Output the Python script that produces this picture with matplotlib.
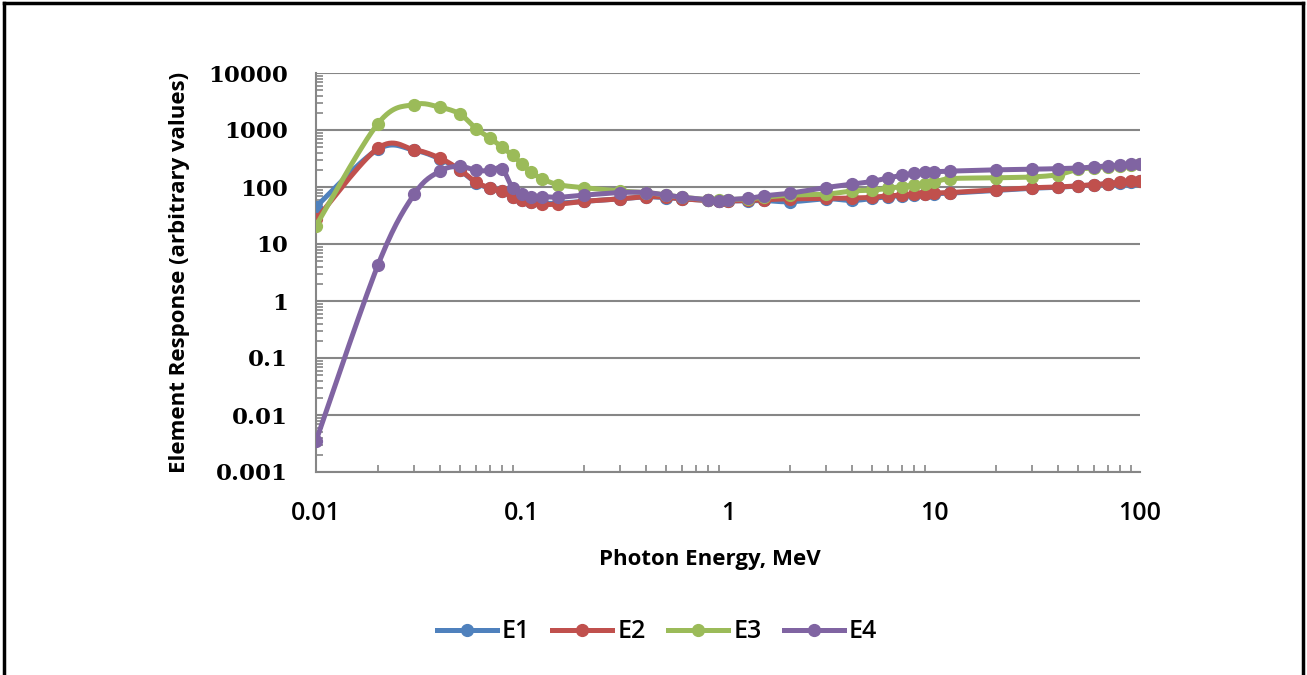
import numpy as np
import matplotlib.pyplot as plt
from matplotlib.lines import Line2D
from matplotlib.ticker import FixedLocator, FixedFormatter, NullFormatter

# photon energies (MeV) and element responses
energy = [0.01, 0.02, 0.03, 0.04, 0.05, 0.06, 0.07, 0.08, 0.09, 0.1, 0.11, 0.125,
          0.15, 0.2, 0.3, 0.4, 0.5, 0.6, 0.8, 0.9, 1, 1.25, 1.5, 2, 3, 4, 5, 6,
          7, 8, 9, 10, 12, 20, 30, 40, 50, 60, 70, 80, 90, 100]

e1 = [45, 460, 440, 310, 195, 118, 95, 84, 67, 58, 55, 52,
      52, 56, 62, 67, 65, 62, 58, 57, 57, 57, 58, 55, 62, 58, 63, 68,
      70, 72, 74, 76, 78, 87, 95, 99, 104, 109, 114, 119, 124, 128]
e2 = [27, 480, 450, 320, 200, 120, 97, 85, 68, 58, 55, 50,
      50, 56, 62, 68, 66, 62, 58, 56, 57, 58, 60, 62, 63, 64, 66, 70,
      72, 74, 76, 78, 80, 89, 97, 100, 105, 110, 115, 120, 125, 130]
e3 = [21, 1300, 2800, 2500, 1900, 1050, 720, 500, 360, 250, 185, 140,
      110, 97, 85, 80, 72, 66, 60, 58, 60, 62, 66, 72, 75, 85, 88, 95,
      102, 108, 115, 120, 140, 145, 150, 165, 205, 215, 228, 235, 245, 250]
e4 = [0.0035, 4.3, 75, 190, 230, 195, 195, 210, 95, 75, 66, 68,
      66, 72, 80, 80, 72, 66, 60, 57, 60, 63, 70, 78, 98, 112, 125, 145,
      160, 175, 183, 185, 190, 200, 205, 210, 215, 225, 235, 240, 250, 255]

names = ['E1', 'E2', 'E3', 'E4']
colors = ['#4F81BD', '#C0504D', '#9BBB59', '#8064A2']

y_ticks = [0.001, 0.01, 0.1, 1, 10, 100, 1000, 10000]
y_labels = ['0.001', '0.01', '0.1', '1', '10', '100', '1000', '10000']
x_ticks = [0.01, 0.1, 1, 10, 100]
x_labels = ['0.01', '0.1', '1', '10', '100']


def smooth(xs, ys, n=16):
    # Excel style smoothed line (Catmull-Rom in log-log space)
    px = np.log10(xs)
    py = np.log10(ys)
    out_x, out_y = [], []
    m = len(px)
    for i in range(m - 1):
        i0, i3 = max(i - 1, 0), min(i + 2, m - 1)
        t = np.linspace(0, 1, n, endpoint=False)
        for p, out in ((px, out_x), (py, out_y)):
            p0, p1, p2, p3 = p[i0], p[i], p[i + 1], p[i3]
            c1 = p1 + (p2 - p0) / 6
            c2 = p2 - (p3 - p1) / 6
            b = ((1 - t) ** 3 * p1 + 3 * (1 - t) ** 2 * t * c1
                 + 3 * (1 - t) * t ** 2 * c2 + t ** 3 * p2)
            out.extend(b)
    out_x.append(px[-1])
    out_y.append(py[-1])
    return 10 ** np.array(out_x), 10 ** np.array(out_y)


fig = plt.figure(figsize=(13.07, 6.75), dpi=100)
ax = fig.add_axes([316 / 1307, 1 - 472 / 675, 824 / 1307, 399 / 675])

handles = []
for ys, name, c in zip([e1, e2, e3, e4], names, colors):
    sx, sy = smooth(energy, ys)
    ax.plot(sx, sy, color=c, lw=3.6, solid_capstyle='round', zorder=3)
    ax.plot(energy, ys, 'o', color=c, ms=8.5, zorder=3)
    handles.append(Line2D([], [], color=c, lw=3.6, marker='o', ms=8.5))

ax.set_xscale('log')
ax.set_yscale('log')
ax.set_xlim(0.01, 100)
ax.set_ylim(0.001, 10000)

gray = '#868686'
ax.yaxis.set_major_locator(FixedLocator(y_ticks))
ax.yaxis.set_major_formatter(FixedFormatter(y_labels))
ax.xaxis.set_major_locator(FixedLocator(x_ticks))
ax.xaxis.set_major_formatter(FixedFormatter(x_labels))
ax.yaxis.set_minor_locator(FixedLocator(
    [m * 10.0 ** d for d in range(-3, 4) for m in range(2, 10)]))
ax.xaxis.set_minor_locator(FixedLocator(
    [m * 10.0 ** d for d in range(-2, 2) for m in range(2, 10)]))
ax.yaxis.set_minor_formatter(NullFormatter())
ax.xaxis.set_minor_formatter(NullFormatter())

ax.grid(True, which='major', axis='y', color=gray, lw=1.5)
for s in ['top', 'right']:
    ax.spines[s].set_visible(False)
for s in ['left', 'bottom']:
    ax.spines[s].set_color(gray)
    ax.spines[s].set_linewidth(1.5)
ax.tick_params(which='major', length=0)
ax.tick_params(axis='y', which='major', pad=20)
ax.tick_params(axis='x', which='major', pad=21)
ax.tick_params(which='minor', direction='in', length=5, width=1.2, color=gray)

for lab in ax.get_yticklabels():
    lab.set_fontfamily('DejaVu Serif')
    lab.set_fontweight('bold')
    lab.set_fontsize(16.5)
for lab in ax.get_xticklabels():
    lab.set_fontfamily('Open Sans')
    lab.set_fontweight('semibold')
    lab.set_fontsize(18)

fig.text(180 / 1307, 1 - 272 / 675, 'Element Response (arbitrary values)',
         rotation=90, ha='center', va='center', fontsize=16,
         fontfamily='Open Sans', fontweight='bold')
fig.text(710 / 1307, 1 - 560 / 675, 'Photon Energy, MeV', ha='center',
         va='center', fontsize=16, fontfamily='Open Sans', fontweight='bold')

fig.legend(handles, names, loc='center', bbox_to_anchor=(657 / 1307, 1 - 632 / 675),
           ncol=4, frameon=False, handlelength=2.4, handletextpad=0.2,
           columnspacing=0.9, prop={'family': 'Open Sans', 'size': 18,
                                    'weight': 'semibold'})

# black frame round the picture (bottom edge is cut off)
for xs, ys in [([0.003, 0.003], [0, 0.995]), ([0.003, 0.997], [0.995, 0.995]),
               ([0.997, 0.997], [0, 0.995])]:
    fig.add_artist(Line2D(xs, ys, color='black', lw=2.5,
                          transform=fig.transFigure))

fig.savefig('out.png', dpi=100, facecolor='white')
